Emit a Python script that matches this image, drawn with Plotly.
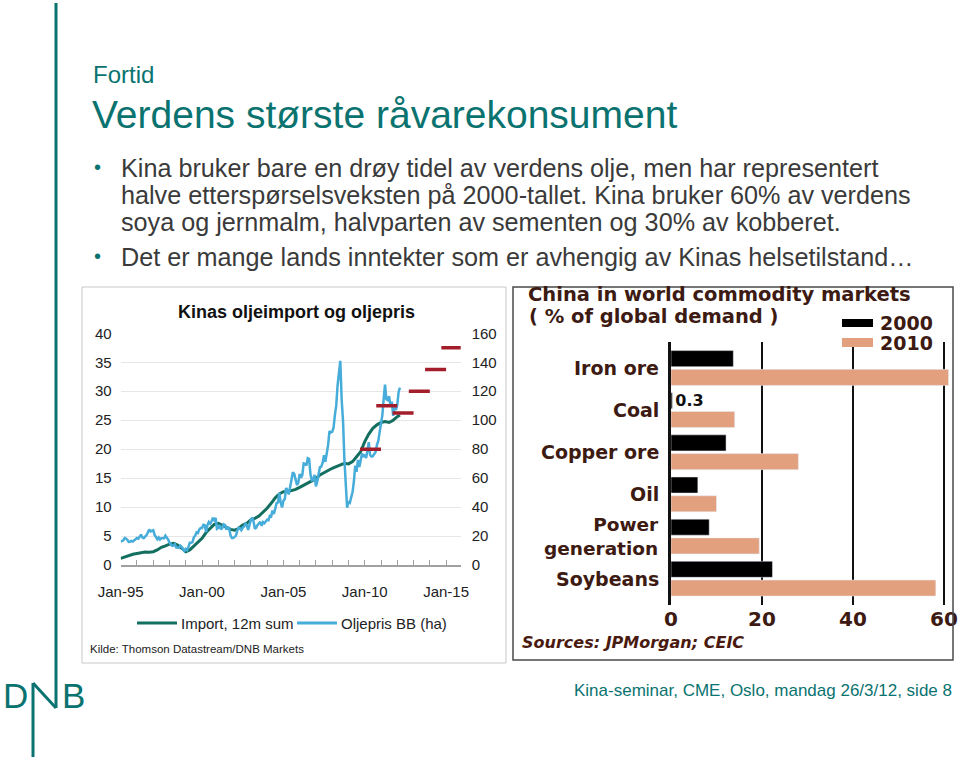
import plotly.graph_objects as go
import pandas as pd

W, H = 960, 761


def px(x):
    return x / W


def py(y):
    return 1 - y / H


TEAL = "#0a7370"
BODY = "#3a3a3a"
IMPORT_C = "#136f60"
OIL_C = "#46acd9"
RED = "#a31e2a"
BROWN = "#3d1a12"
SALMON = "#e3a07f"
SANS = "Liberation Sans, Arial, sans-serif"
WIDE = "DejaVu Sans, Verdana, sans-serif"

# ---------------- data: left chart ----------------
# Brent oil price, USD/bbl, monthly from Jan-1995 (right axis)
oil_brent = [
    16.1, 16.9, 17.1, 18.6, 18.3, 17.3, 16.0, 16.1, 16.6, 16.2, 17.0, 18.0,
    18.6, 18.2, 19.9, 21.0, 19.1, 18.5, 19.6, 20.5, 22.5, 24.6, 23.2, 23.6,
    24.0, 20.8, 19.2, 17.8, 19.0, 17.6, 18.5, 18.6, 18.5, 20.2, 19.2, 17.5,
    15.5, 14.1, 13.2, 13.4, 14.3, 12.1, 12.0, 11.9, 13.4, 12.6, 10.9, 9.6,
    11.1, 10.3, 12.5, 15.3, 15.3, 15.8, 19.1, 20.3, 22.5, 22.1, 24.6, 25.5,
    25.5, 27.8, 27.5, 22.7, 27.6, 29.7, 28.5, 30.0, 32.6, 31.0, 32.5, 25.0,
    25.6, 27.5, 24.5, 25.6, 28.1, 27.6, 24.5, 25.7, 25.6, 20.5, 18.7, 18.7,
    19.4, 20.3, 23.7, 25.7, 25.4, 24.1, 25.7, 26.6, 28.4, 27.5, 24.3, 28.2,
    31.2, 32.6, 30.3, 25.0, 25.8, 27.6, 28.4, 29.8, 27.1, 29.6, 28.8, 29.8,
    31.2, 30.9, 33.8, 33.4, 37.6, 35.2, 38.2, 42.7, 43.2, 49.8, 43.1, 39.7,
    44.3, 45.6, 53.1, 51.9, 48.7, 54.3, 57.6, 64.1, 62.9, 58.5, 55.2, 56.8,
    62.9, 60.2, 62.1, 70.1, 69.8, 68.7, 73.7, 73.2, 62.5, 58.5, 58.9, 62.3,
    54.3, 57.8, 62.1, 67.5, 67.9, 70.6, 75.8, 71.2, 77.1, 82.8, 92.5, 91.5,
    91.9, 94.8, 103.3, 110.2, 124.0, 133.5, 141.0, 114.0, 99.1, 72.8, 53.2, 39.5,
    43.9, 43.0, 46.5, 50.2, 57.3, 68.6, 64.4, 72.5, 67.7, 73.2, 77.0, 74.7,
    76.2, 73.8, 78.8, 84.8, 75.9, 74.8, 75.1, 77.1, 78.0, 82.9, 85.7, 91.8,
    96.5, 103.7, 114.6, 124.5, 114.5, 113.9, 116.5, 110.1, 112.8, 103.0, 109.0, 107.0,
    110.7, 119.7, 122.5,
]
oil_dates = pd.date_range("1995-01-01", periods=len(oil_brent), freq="MS")

# China oil import, 12m sum, quarterly from Jan-1995 (left axis)
import_12m = [
    1.15, 1.4, 1.55, 1.85,
    2.0, 2.1, 2.25, 2.2,
    2.3, 2.6, 3.05, 3.3,
    3.6, 3.75, 3.45, 2.9,
    2.3, 2.6, 3.3, 3.85,
    4.6, 5.6, 6.3, 7.0,
    7.2, 6.9, 6.5, 6.15,
    6.0, 6.3, 6.9, 7.2,
    7.8, 8.05, 8.45, 9.05,
    9.8, 10.65, 11.6, 12.25,
    12.65, 12.65, 12.8, 13.05,
    13.4, 13.8, 14.1, 14.5,
    14.9, 15.55, 15.95, 16.4,
    16.7, 17.0, 17.25, 17.55,
    17.45, 17.85, 18.7, 19.55,
    21.3, 22.6, 23.6, 24.2,
    24.6, 24.75, 24.6, 25.0,
    25.6, 25.9,
]
import_dates = list(pd.date_range("1995-01-01", periods=len(import_12m) - 1, freq="QS")) + [
    pd.Timestamp("2012-03-01")
]

# Oil price forecasts (red dashes, right axis)
forecast_dates = ["2010-05-10", "2011-05-10", "2012-05-10", "2013-05-10", "2014-05-10", "2015-05-10"]
forecast_price = [80, 110, 105, 120, 135, 150]

# ---------------- data: right chart ----------------
commodities = ["Iron ore", "Coal", "Copper ore", "Oil", "Power generation", "Soybeans"]
commodity_labels = ["Iron ore", "Coal", "Copper ore", "Oil", "Power<br>generation", "Soybeans"]
share_2000 = [13.7, 0.3, 12.1, 5.9, 8.4, 22.3]
share_2010 = [61.0, 14.0, 28.0, 10.0, 19.4, 58.2]

fig = go.Figure()

fig.add_trace(go.Scatter(
    x=import_dates, y=import_12m, mode="lines", name="Import, 12m sum",
    line=dict(color=IMPORT_C, width=3), xaxis="x", yaxis="y", showlegend=False,
))
fig.add_trace(go.Scatter(
    x=oil_dates, y=oil_brent, mode="lines", name="Oljepris BB (ha)",
    line=dict(color=OIL_C, width=2.5), xaxis="x", yaxis="y2", showlegend=False,
))
fig.add_trace(go.Scatter(
    x=forecast_dates, y=forecast_price, mode="markers", name="Prognose",
    marker=dict(symbol="line-ew", size=15, line=dict(width=3.5, color=RED)),
    xaxis="x", yaxis="y2", showlegend=False,
))

fig.add_trace(go.Bar(
    y=commodities, x=share_2000, orientation="h", name="2000",
    marker=dict(color="#000000"), xaxis="x2", yaxis="y3", showlegend=False,
    text=[f"{v:g}" if v < 1 else "" for v in share_2000],
    textposition="outside", constraintext="none", cliponaxis=False,
    textfont=dict(family=WIDE, size=16, color="#111111", weight=700),
))
fig.add_trace(go.Bar(
    y=commodities, x=share_2010, orientation="h", name="2010",
    marker=dict(color=SALMON), xaxis="x2", yaxis="y3", showlegend=False,
))

shapes = []
# chart frames
shapes.append(dict(type="rect", xref="paper", yref="paper", x0=px(82), x1=px(506), y0=py(663), y1=py(287),
                   line=dict(color="#c8c8c8", width=1)))
shapes.append(dict(type="rect", xref="paper", yref="paper", x0=px(513), x1=px(953), y0=py(660), y1=py(287),
                   line=dict(color="#4a4a4a", width=1.5)))
# DNB logo strokes / slide rule
for (x0, y0, x1, y1) in [(56, 3, 56, 708), (33, 683, 56, 708), (33, 683, 33, 757)]:
    shapes.append(dict(type="line", xref="paper", yref="paper", x0=px(x0), y0=py(y0), x1=px(x1), y1=py(y1),
                       line=dict(color=TEAL, width=3)))
# left legend lines
shapes.append(dict(type="line", xref="paper", yref="paper", x0=px(137), x1=px(177), y0=py(623), y1=py(623),
                   line=dict(color=IMPORT_C, width=3)))
shapes.append(dict(type="line", xref="paper", yref="paper", x0=px(297), x1=px(337), y0=py(623), y1=py(623),
                   line=dict(color=OIL_C, width=3)))
# right legend patches
shapes.append(dict(type="rect", xref="paper", yref="paper", x0=px(842), x1=px(873), y0=py(327), y1=py(319),
                   fillcolor="#000000", line=dict(width=0)))
shapes.append(dict(type="rect", xref="paper", yref="paper", x0=px(842), x1=px(873), y0=py(347), y1=py(338),
                   fillcolor=SALMON, line=dict(width=0)))

ann = []


def text(x, y, s, size, color, family=SANS, xanchor="left", weight=400, **kw):
    ann.append(dict(x=px(x), y=py(y), xref="paper", yref="paper", text=s, showarrow=False,
                    xanchor=xanchor, yanchor="middle",
                    font=dict(family=family, size=size, color=color, weight=weight), **kw))


# slide header
text(91, 74, "Fortid", 24, TEAL)
text(90, 115, "Verdens største råvarekonsument", 39, TEAL)
bullet_lines = [
    (168, "Kina bruker bare en drøy tidel av verdens olje, men har representert", True),
    (195, "halve etterspørselsveksten på 2000-tallet. Kina bruker 60% av verdens", False),
    (222, "soya og jernmalm, halvparten av sementen og 30% av kobberet.", False),
    (257, "Det er mange lands inntekter som er avhengig av Kinas helsetilstand…", True),
]
for yy, s, b in bullet_lines:
    text(119, yy, s, 25.2, BODY)
    if b:
        text(92, yy - 1, "•", 20, TEAL)

# footer
text(954, 690, "Kina-seminar, CME, Oslo, mandag 26/3/12, side 8", 17, TEAL, xanchor="right")
text(1, 695, "D", 35, TEAL)
text(60, 695, "B", 35, TEAL)

# left chart texts
text(296, 312, "Kinas oljeimport og oljepris", 18, "#111111", xanchor="center", weight=700)
text(179, 623, "Import, 12m sum", 15, "#222222")
text(339, 623, "Oljepris BB (ha)", 15, "#222222")
text(88, 649, "Kilde: Thomson Datastream/DNB Markets", 11.5, "#222222")

# right chart texts
text(526, 294, "China in world commodity markets", 19.5, BROWN, family=WIDE, weight=700)
text(527, 316, "( % of global demand )", 19.5, BROWN, family=WIDE, weight=700)
text(878, 323, "2000", 19, BROWN, family=WIDE, weight=700)
text(878, 343, "2010", 19, BROWN, family=WIDE, weight=700)
text(520, 642, "<i>Sources: JPMorgan; CEIC</i>", 16, "#4a1a10", family=WIDE, weight=700)

# category labels of the bar chart (one text block per category)
for cat, lab in zip(commodities, commodity_labels):
    multi = "<br>" in lab
    ann.append(dict(x=px(661), xref="paper", y=cat, yref="y3", text=lab, showarrow=False,
                    xanchor="right", yanchor="middle", align="right",
                    font=dict(family=WIDE, size=18.5 if multi else 19, color=BROWN, weight=700)))

tickfont_l = dict(family=SANS, size=15, color="#222222")

fig.update_layout(
    width=W, height=H, autosize=False,
    margin=dict(l=0, r=0, t=0, b=0, pad=0, autoexpand=False),
    paper_bgcolor="white", plot_bgcolor="rgba(0,0,0,0)",
    shapes=shapes, annotations=ann,
    barmode="group", bargap=0.11, bargroupgap=0.144,
    xaxis=dict(
        type="date", domain=[px(120.7), px(460.7)], range=["1995-01-01", "2015-11-25"],
        anchor="y", showline=True, linecolor="#a0a0a0", linewidth=1.5,
        ticks="inside", ticklen=5, tickcolor="#a0a0a0", tickwidth=1,
        dtick="M60", tick0="1995-01-01", tickformat="%b-%y", tickfont=tickfont_l,
        minor=dict(dtick="M12", tick0="1995-01-01", ticks="inside", ticklen=5, tickcolor="#a0a0a0",
                   showgrid=False),
        showgrid=False, zeroline=False, ticklabelstandoff=12, automargin=False,
    ),
    yaxis=dict(
        domain=[py(565), py(333.3)], range=[0, 40], dtick=5, anchor="x",
        showgrid=True, gridcolor="#e6e6e6", gridwidth=1, zeroline=False, showline=False,
        tickfont=tickfont_l, ticks="", ticklabelstandoff=8, automargin=False,
    ),
    yaxis2=dict(
        overlaying="y", side="right", range=[0, 160], dtick=20, anchor="x",
        showgrid=False, zeroline=False, showline=False,
        tickfont=tickfont_l, ticks="", ticklabelstandoff=10, automargin=False,
    ),
    xaxis2=dict(
        domain=[px(671), px(950.8)], range=[0, 61.5], anchor="y3",
        tickvals=[0, 20, 40, 60], showgrid=True, gridcolor="#111111", gridwidth=1.5,
        zeroline=False, showline=False, ticks="",
        tickfont=dict(family=WIDE, size=20, color=BROWN, weight=700), ticklabelstandoff=0,
        automargin=False,
    ),
    yaxis3=dict(
        domain=[py(605), py(342)], type="category", categoryorder="array", categoryarray=commodities,
        range=[5.625, -0.617], anchor="x2", showticklabels=False, automargin=False,
        showline=True, linecolor="#111111", linewidth=3, showgrid=False, zeroline=False, ticks="",
    ),
)

fig.write_html("out.html", config={"displayModeBar": False},
               post_script="document.body.style.margin='0px';")
